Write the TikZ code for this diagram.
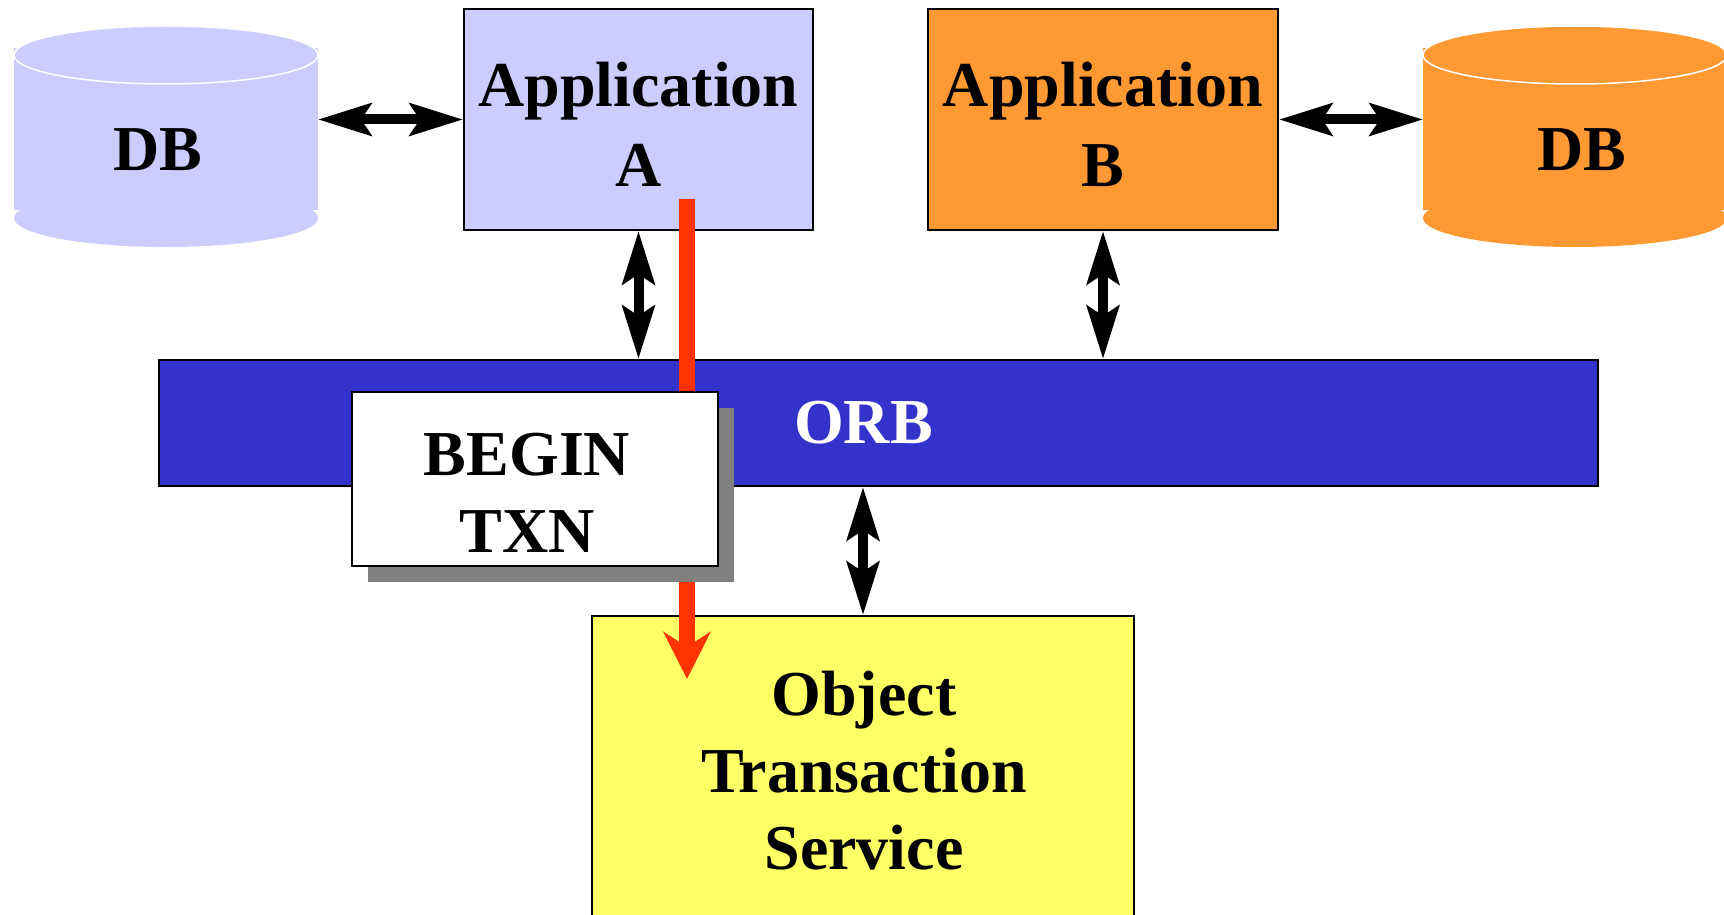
\documentclass[tikz,border=0pt]{standalone}
\usepackage{fontspec}
\setmainfont{Liberation Serif}
\usetikzlibrary{arrows.meta,shadows}
\definecolor{lav}{HTML}{CCCCFF}
\definecolor{orng}{HTML}{FF9933}
\definecolor{orbblue}{HTML}{3333CC}
\definecolor{ylw}{HTML}{FFFF66}
\definecolor{redl}{HTML}{FF3300}
\definecolor{shd}{HTML}{808080}
\begin{document}
\begin{tikzpicture}[x=1pt,y=-1pt,
  box/.style={draw=black, line width=2pt, rectangle, inner sep=0pt},
  lbl/.style={anchor=base, inner sep=0pt, font=\fontsize{64}{80}\selectfont\bfseries},
  lbls/.style={lbl, font=\fontsize{64}{77}\selectfont\bfseries},
  dbl/.style={line width=10pt, {Stealth[length=53pt,width=32pt,inset=10pt]}-{Stealth[length=53pt,width=32pt,inset=10pt]}},
  redarrow/.style={redl, line width=16pt, -{Stealth[length=47pt,width=47pt,inset=15pt]}},
  ]
\useasboundingbox (0,0) rectangle (1724,915);

% left DB cylinder
\fill[lav] (14,48) rectangle (318,210);
\fill[lav] (166,218) ellipse [x radius=152, y radius=29];
\filldraw[fill=lav, draw=white, line width=1.5pt] (166,55) ellipse [x radius=152, y radius=29];
\node[lbl] (dbAt) at (158,171) {DB};
\coordinate (dbAe) at (318,119.5);

% right DB cylinder
\fill[orng] (1423,48) rectangle (1727,210);
\fill[orng] (1575,218) ellipse [x radius=152, y radius=29];
\filldraw[fill=orng, draw=white, line width=1.5pt] (1575,55) ellipse [x radius=152, y radius=29];
\node[lbl] (dbBt) at (1582,171) {DB};
\coordinate (dbBw) at (1423,119.5);

% boxes
\node[box, fill=lav, minimum width=349pt, minimum height=221pt] (appA) at (638.5,119.5) {};
\node[box, fill=orng, minimum width=350pt, minimum height=221pt] (appB) at (1103,119.5) {};
\node[box, fill=orbblue, minimum width=1439pt, minimum height=126pt] (orb) at (878.5,423) {};
\node[box, fill=ylw, minimum width=542pt, minimum height=309pt] (ots) at (863,770.5) {};

% connectors
\draw[dbl] (dbAe) -- (appA.west);
\draw[dbl] (appB.east) -- (dbBw);
\draw[dbl] (appA.south) -- (appA.south |- orb.north);
\draw[dbl] (appB.south) -- (appB.south |- orb.north);
\draw[dbl] (ots.north |- orb.south) -- (ots.north);

% red flow arrow
\coordinate (rs) at (687,199);
\coordinate (re) at (687,679);
\draw[redarrow] (rs) -- (re);

% BEGIN TXN box with shadow
\node[box, line width=2.5pt, fill=white, minimum width=366pt, minimum height=174pt,
      drop shadow={shadow xshift=16pt, shadow yshift=-16pt, fill=shd, opacity=1}] (btx) at (535,479) {};

% texts
\node[lbl] (appAt) at (638.5,107) {\begin{tabular}[t]{@{}c@{}}Application\\A\end{tabular}};
\node[lbl] (appBt) at (1103,107) {\begin{tabular}[t]{@{}c@{}}Application\\B\end{tabular}};
\node[lbl, text=white] (orbt) at (863.5,443) {ORB};
\node[lbls] (btxt) at (527,475) {\begin{tabular}[t]{@{}c@{}}BEGIN\\TXN\end{tabular}};
\node[lbls] (otst) at (864,715) {\begin{tabular}[t]{@{}c@{}}Object\\Transaction\\Service\end{tabular}};
\end{tikzpicture}
\end{document}
